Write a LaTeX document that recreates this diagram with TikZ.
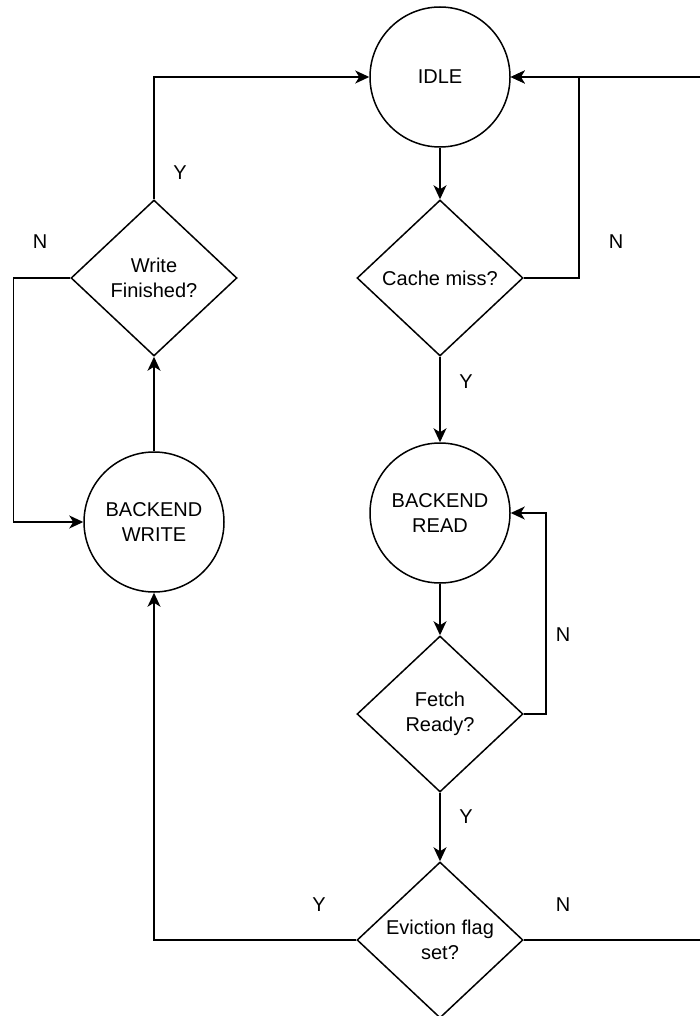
\documentclass[tikz,border=0pt]{standalone}
\usepackage{fontspec}
\setmainfont{Liberation Sans}
\usetikzlibrary{shapes.geometric,arrows.meta}
\begin{document}
\begin{tikzpicture}[x=1pt,y=-1pt,
  every node/.style={font=\fontsize{20}{25}\selectfont},
  state/.style={circle,draw,line width=1.5pt,minimum size=140pt,inner sep=0pt,align=center},
  decision/.style={diamond,draw,line width=1.5pt,minimum width=166pt,minimum height=156pt,inner sep=0pt,align=center},
  lbl/.style={inner sep=0pt},
  arr/.style={line width=1.5pt,-{Stealth[length=14pt,width=13pt,inset=4pt]}}
]
\useasboundingbox (0,0) rectangle (700,1016);
\clip (0,0) rectangle (700,1016);
\node[state] (idle) at (440,77) {IDLE};
\node[decision] (cm) at (440,278) {Cache miss?};
\node[state] (br) at (440,513) {BACKEND\\READ};
\node[decision] (fr) at (440,714) {Fetch\\Ready?};
\node[decision] (ev) at (440,940) {Eviction flag\\set?};
\node[decision] (wf) at (154,278) {Write\\Finished?};
\node[state] (bw) at (154,522) {BACKEND\\WRITE};

\draw[arr] (idle.south) -- (cm.north);
\draw[arr] (cm.east) -- ++(55,0) |- (idle.east);
\draw[arr] (ev.east) -- ++(200,0) |- (idle.east);
\draw[arr] (cm.south) -- (br.north);
\draw[arr] (br.south) -- (fr.north);
\draw[arr] (fr.east) -- ++(22,0) |- (br.east);
\draw[arr] (fr.south) -- (ev.north);
\draw[arr] (ev.west) -| (bw.south);
\draw[arr] (bw.north) -- (wf.south);
\draw[arr] (wf.north) |- (idle.west);
\draw[arr] (wf.west) -- ++(-57,0) |- (bw.west);

\node[lbl] (l1) at (40,242) {N};
\node[lbl] (l2) at (180,173) {Y};
\node[lbl] (l3) at (616,242) {N};
\node[lbl] (l4) at (466,382) {Y};
\node[lbl] (l5) at (563,635) {N};
\node[lbl] (l6) at (466,817) {Y};
\node[lbl] (l7) at (319,905) {Y};
\node[lbl] (l8) at (563,905) {N};
\end{tikzpicture}
\end{document}
